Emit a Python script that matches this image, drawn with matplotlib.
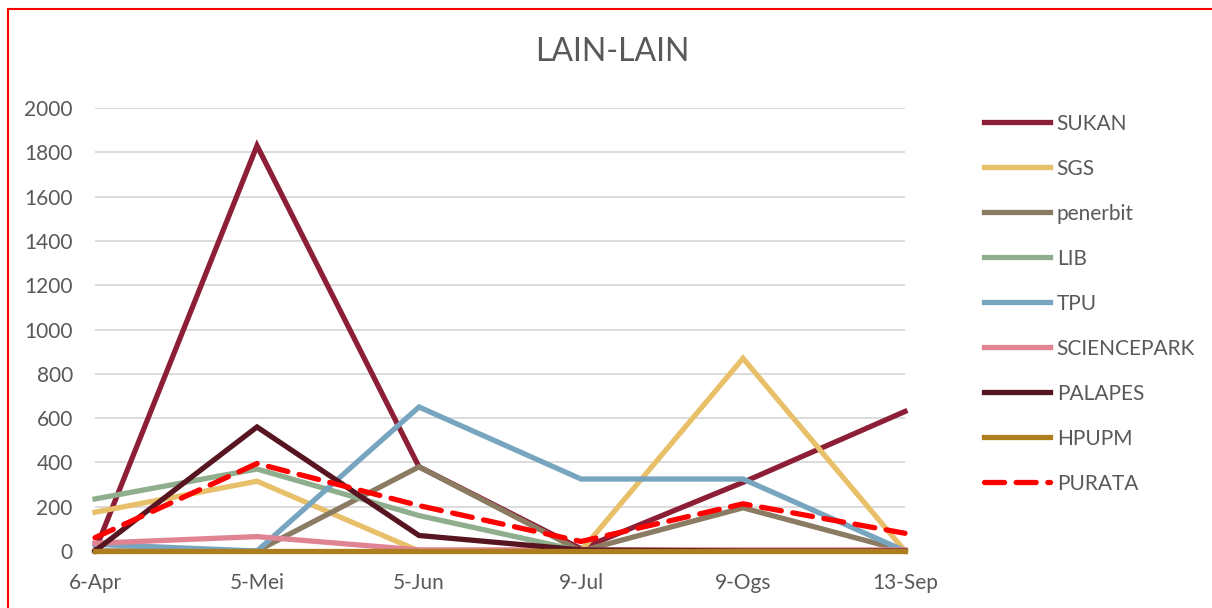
import matplotlib
matplotlib.use("Agg")
import matplotlib.pyplot as plt
from matplotlib.lines import Line2D

plt.rcParams["font.family"] = ["Lato", "DejaVu Sans"]

dates = ["6-Apr", "5-Mei", "5-Jun", "9-Jul", "9-Ogs", "13-Sep"]

sukan = [0, 1830, 380, 10, 310, 630]
sgs = [175, 315, 0, 0, 870, 0]
penerbit = [0, 0, 380, 0, 195, 0]
lib = [235, 370, 160, 0, 0, 0]
tpu = [30, 0, 650, 325, 325, 0]
sciencepark = [35, 65, 5, 5, 5, 5]
palapes = [0, 560, 70, 5, 0, 0]
hpupm = [0, 0, 0, 0, 0, 0]
purata = [60, 395, 205, 43, 213, 80]

series = [
    ("SUKAN", sukan, "#8C1F35"),
    ("SGS", sgs, "#E8C06A"),
    ("penerbit", penerbit, "#8A7B62"),
    ("LIB", lib, "#8FAE8E"),
    ("TPU", tpu, "#77A5C0"),
    ("SCIENCEPARK", sciencepark, "#E08494"),
    ("PALAPES", palapes, "#561521"),
    ("HPUPM", hpupm, "#AE7E1E"),
]

TEXT = "#595959"

fig = plt.figure(figsize=(12.12, 6.08), dpi=100)
ax = fig.add_axes([95 / 1212, 1 - 551 / 608, 810 / 1212, 443 / 608])

x = list(range(len(dates)))
handles = []
for name, vals, color in series:
    (ln,) = ax.plot(x, vals, color=color, lw=3.8, solid_joinstyle="miter",
                    label=name, clip_on=False)
    handles.append(ln)

(avg,) = ax.plot(x, purata, color="#FF0000", lw=3.8, label="PURATA",
                 dash_capstyle="round", clip_on=False)
avg.set_dashes([3.8, 2.2])
handles.append(avg)

ax.set_xlim(0, 5)
ax.set_ylim(0, 2000)
ax.set_yticks(range(0, 2001, 200))
ax.set_xticks(x)
ax.set_xticklabels(dates)
ax.grid(axis="y", color="#D9D9D9", lw=1.3)
ax.set_axisbelow(True)
for s in ax.spines.values():
    s.set_visible(False)
ax.tick_params(length=0, labelsize=15, colors=TEXT)
ax.tick_params(axis="y", pad=16)
ax.tick_params(axis="x", pad=16)

fig.text(612 / 1212, 1 - 52 / 608, "LAIN-LAIN", ha="center", va="center",
         fontsize=23, color=TEXT)

leg = fig.legend(handles=handles, loc="upper left",
                 bbox_to_anchor=(965 / 1212, 1 - 95 / 608),
                 frameon=False, fontsize=15, handlelength=3.2,
                 handletextpad=0.3, labelspacing=1.2, labelcolor=TEXT)

# red frame around the picture (left and top edges visible)
fig.add_artist(Line2D([7.5 / 1212, 7.5 / 1212], [0, 1 - 9 / 608],
                      transform=fig.transFigure, color="#FF0000", lw=1.5))
fig.add_artist(Line2D([7.5 / 1212, 1], [1 - 9 / 608, 1 - 9 / 608],
                      transform=fig.transFigure, color="#FF0000", lw=1.5))

fig.savefig("out.png", dpi=100)
